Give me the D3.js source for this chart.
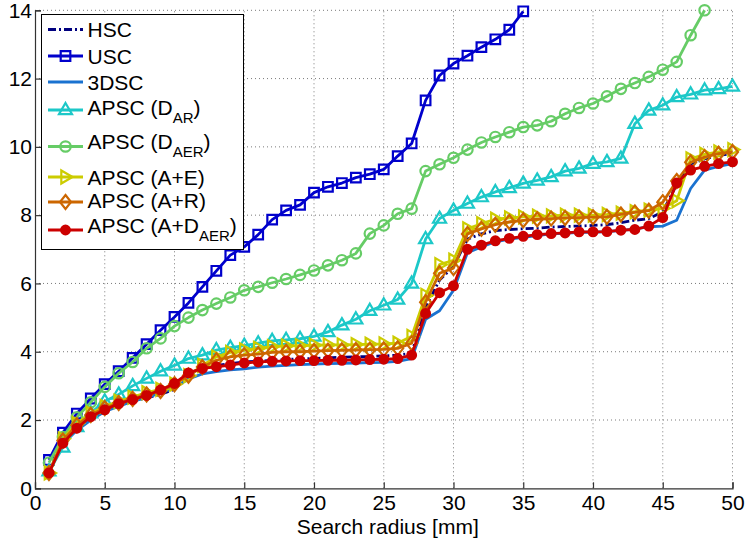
<!DOCTYPE html>
<html><head><meta charset="utf-8">
<script src="https://cdn.jsdelivr.net/npm/d3@7"></script>
<style>html,body{margin:0;padding:0;background:#fff}svg{display:block}</style>
</head><body>
<svg id="chart" width="746" height="541"></svg>
<script>
const radius = [1,2,3,4,5,6,7,8,9,10,11,12,13,14,15,16,17,18,19,20,21,22,23,24,25,26,27,28,29,30,31,32,33,34,35,36,37,38,39,40,41,42,43,44,45,46,47,48,49,50];
const xTicks = [0,5,10,15,20,25,30,35,40,45,50];
const yTicks = [0,2,4,6,8,10,12,14];
const hsc = [0.5,1.35,1.75,2.05,2.3,2.45,2.55,2.65,2.75,2.9,3.3,3.5,3.6,3.65,3.7,3.72,3.75,3.77,3.8,3.8,3.82,3.84,3.85,3.86,3.88,3.9,3.95,5.3,6.1,6.5,7.3,7.45,7.55,7.58,7.6,7.62,7.65,7.67,7.68,7.7,7.72,7.78,7.85,7.9,8.1,8.9,9.5,9.65,9.75,9.8];
const usc = [0.83,1.63,2.19,2.63,3.05,3.43,3.82,4.22,4.63,5.02,5.43,5.9,6.37,6.83,7.07,7.43,7.87,8.14,8.3,8.66,8.83,8.94,9.1,9.2,9.34,9.73,10.1,11.36,12.09,12.44,12.67,12.92,13.15,13.43,13.97];
const dsc3 = [0.5,1.3,1.7,2.0,2.25,2.4,2.55,2.65,2.8,2.95,3.2,3.35,3.42,3.47,3.5,3.55,3.58,3.6,3.62,3.64,3.65,3.66,3.67,3.68,3.69,3.72,3.8,4.95,5.2,5.8,6.9,7.07,7.22,7.3,7.35,7.4,7.45,7.47,7.5,7.5,7.52,7.55,7.6,7.66,7.68,7.85,8.78,9.32,9.43,9.51];
const apscDAR = [0.5,1.2,1.8,2.2,2.55,2.75,3.0,3.22,3.43,3.6,3.8,3.9,4.05,4.12,4.18,4.25,4.32,4.35,4.38,4.45,4.58,4.78,4.95,5.2,5.36,5.53,6.0,7.3,7.9,8.14,8.34,8.53,8.68,8.8,8.93,9.02,9.12,9.29,9.37,9.51,9.56,9.66,10.68,11.07,11.22,11.46,11.54,11.66,11.7,11.77];
const apscDAER = [0.75,1.5,2.08,2.52,2.97,3.37,3.7,4.1,4.39,4.75,5.0,5.22,5.41,5.59,5.8,5.9,6.02,6.13,6.25,6.38,6.53,6.68,6.88,7.46,7.7,8.04,8.19,9.29,9.49,9.68,9.92,10.13,10.29,10.43,10.58,10.63,10.75,10.97,11.14,11.27,11.48,11.7,11.87,12.05,12.26,12.49,13.27,14.0];
const apscAE = [0.45,1.45,1.9,2.2,2.4,2.55,2.67,2.8,2.9,3.05,3.3,3.6,3.85,3.98,4.05,4.1,4.15,4.17,4.18,4.19,4.2,4.2,4.21,4.22,4.23,4.25,4.45,5.65,6.55,6.68,7.6,7.75,7.88,7.92,7.95,7.97,7.98,8.0,8.0,8.0,8.02,8.06,8.1,8.15,8.2,8.42,9.65,9.78,9.85,9.92];
const apscAR = [0.45,1.4,1.85,2.15,2.35,2.5,2.62,2.75,2.85,3.05,3.3,3.55,3.75,3.85,3.9,3.93,3.98,4.0,4.0,4.02,4.03,4.04,4.05,4.06,4.07,4.1,4.25,5.45,6.3,6.45,7.45,7.6,7.72,7.8,7.85,7.88,7.9,7.92,7.93,7.94,7.95,8.02,8.08,8.13,8.38,9.0,9.55,9.7,9.8,9.85];
const apscADAER = [0.45,1.32,1.76,2.1,2.3,2.48,2.6,2.72,2.88,3.07,3.38,3.51,3.56,3.61,3.67,3.7,3.72,3.73,3.74,3.74,3.75,3.75,3.76,3.77,3.78,3.8,3.9,5.12,5.73,5.93,7.0,7.12,7.25,7.32,7.38,7.43,7.46,7.48,7.51,7.51,7.52,7.56,7.58,7.68,7.93,8.94,9.32,9.43,9.51,9.56];
const seriesNames = ["HSC","USC","3DSC","APSC (D|AR|)","APSC (D|AER|)","APSC (A+E)","APSC (A+R)","APSC (A+D|AER|)"];
const xLabel = "Search radius [mm]";

const seriesValues = [hsc, usc, dsc3, apscDAR, apscDAER, apscAE, apscAR, apscADAER];
const styles = [
  {color:"#00007f", marker:null, dash:"8,3,2,3"},
  {color:"#0000cc", marker:"square"},
  {color:"#1a72d0", marker:null},
  {color:"#1cc8c8", marker:"triangle"},
  {color:"#66cc66", marker:"circle"},
  {color:"#cccc00", marker:"right"},
  {color:"#cc6600", marker:"diamond"},
  {color:"#cc0000", marker:"dot"}
];
const LW = 2.8;

const svg = d3.select("#chart");
const L = 35, R = 732.5, T = 10.3, B = 488.3;
const x = d3.scaleLinear().domain([0,50]).range([L,R]);
const y = d3.scaleLinear().domain([0,14]).range([B,T]);
const FONT = "'Liberation Sans', Arial, Helvetica, sans-serif";
const FS = 21;

// grid
const grid = svg.append("g");
grid.selectAll("line.gx").data(xTicks.filter(d=>d>0)).join("line")
  .attr("x1",d=>x(d)).attr("x2",d=>x(d)).attr("y1",B).attr("y2",T)
  .attr("stroke","#7a7a7a").attr("stroke-width",1).attr("stroke-dasharray","1,3");
grid.selectAll("line.gy").data(yTicks.filter(d=>d>0)).join("line")
  .attr("y1",d=>y(d)).attr("y2",d=>y(d)).attr("x1",L).attr("x2",R)
  .attr("stroke","#7a7a7a").attr("stroke-width",1).attr("stroke-dasharray","1,3");

// axes
const xAxis = d3.axisBottom(x).tickValues(xTicks).tickSize(-6).tickPadding(10).tickFormat(d3.format("d"));
const yAxis = d3.axisLeft(y).tickValues(yTicks).tickSize(-6).tickPadding(10).tickFormat(d3.format("d"));
const gx = svg.append("g").attr("transform",`translate(0,${B})`).call(xAxis);
const gy = svg.append("g").attr("transform",`translate(${L},0)`).call(yAxis);
[gx,gy].forEach(g=>{
  g.select(".domain").attr("stroke","#333").attr("stroke-width",1.2);
  g.selectAll(".tick line").attr("stroke","#333").attr("stroke-width",1.2);
  g.selectAll(".tick text").attr("font-family",FONT).attr("font-size",FS).attr("fill","#000");
});
gx.selectAll(".tick text").attr("dy","0.71em").attr("y",7);
gy.selectAll(".tick text").attr("x",-3);

svg.append("text").attr("x",(L+R)/2+4).attr("y",534).attr("text-anchor","middle")
  .attr("font-family",FONT).attr("font-size",FS).text(xLabel);

// marker path generators
function markerPath(type){
  switch(type){
    case "square": return "M-4.8,-4.8H4.8V4.8H-4.8Z";
    case "circle": return d3.symbol(d3.symbolCircle, 85)();
    case "triangle": return "M0,-7L6.5,4.2L-6.5,4.2Z";
    case "right": return "M7,0L-4.2,-6.5L-4.2,6.5Z";
    case "diamond": return "M0,-7L5.5,0L0,7L-5.5,0Z";
    case "dot": return d3.symbol(d3.symbolCircle, 60)();
  }
  return null;
}
function drawMarker(g, type, color, cx, cy){
  const p = markerPath(type);
  if(!p) return;
  const filled = (type==="dot");
  g.append("path").attr("d",p).attr("transform",`translate(${cx},${cy})`)
    .attr("fill", filled ? color : "none").attr("stroke",color).attr("stroke-width",2.2);
}

const line = d3.line().x((d,i)=>x(radius[i])).y(d=>y(d));
seriesValues.forEach((vals,k)=>{
  const st = styles[k];
  const g = svg.append("g");
  g.append("path").datum(vals).attr("d",line).attr("fill","none")
    .attr("stroke",st.color).attr("stroke-width",LW)
    .attr("stroke-linejoin","round")
    .attr("stroke-dasharray",st.dash||null);
  if(st.marker){
    vals.forEach((v,i)=>drawMarker(g, st.marker, st.color, x(radius[i]), y(v)));
  }
});

// legend
const lg = svg.append("g");
lg.append("rect").attr("x",41.5).attr("y",14.5).attr("width",202).attr("height",235)
  .attr("fill","#fff").attr("stroke","#000").attr("stroke-width",1);
const rowY = [29.5,56,82,110,146.5,177,202,230];
const baseOff = [7.5,7.5,7.5,4.5,2.5,7.5,6,2.5];
seriesNames.forEach((name,k)=>{
  const st = styles[k];
  const ly = rowY[k];
  lg.append("line").attr("x1",48).attr("x2",83).attr("y1",ly).attr("y2",ly)
    .attr("stroke",st.color).attr("stroke-width",LW).attr("stroke-dasharray",st.dash||null);
  drawMarker(lg, st.marker, st.color, 65.5, ly);
  const parts = name.split("|");
  const t = lg.append("text").attr("x",87.5).attr("y",ly+baseOff[k])
    .attr("font-family",FONT).attr("font-size",FS).attr("fill","#000");
  t.append("tspan").text(parts[0]);
  if(parts.length>1){
    t.append("tspan").attr("dy",8).attr("font-size",15).text(parts[1]);
    t.append("tspan").attr("dy",-8).text(parts[2]);
  }
});
</script>
</body></html>
